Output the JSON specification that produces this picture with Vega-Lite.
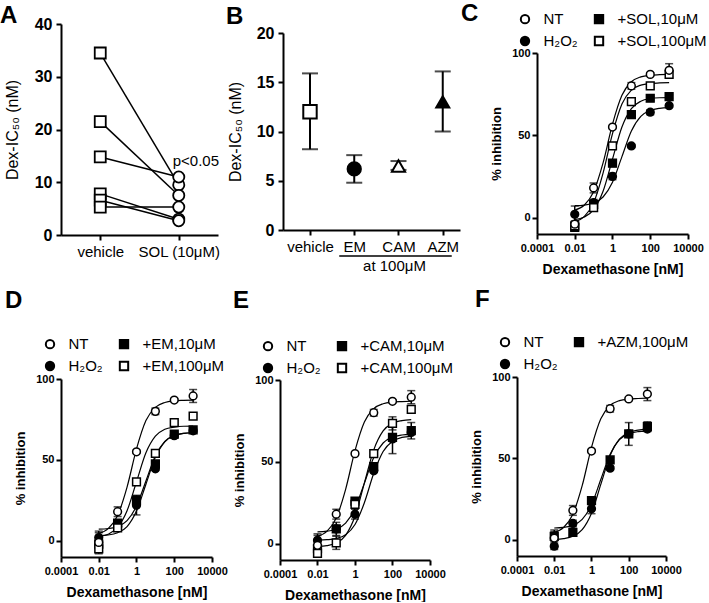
{
"$schema":"https://vega.github.io/schema/vega-lite/v6.json",
"autosize":"pad",
"padding":{"left":0,"top":1,"right":0,"bottom":0},
"config":{"view":{"stroke":null},"font":"Liberation Sans",
"axis":{"domainColor":"black","domainWidth":2,"tickColor":"black","tickWidth":2,"tickSize":5,"labelColor":"black","titleColor":"black","grid":false,"labelFont":"Liberation Sans","titleFont":"Liberation Sans","labelFlush":false,"labelOverlap":false,"labelBound":false},
"legend":{"title":null,"orient":"none","columns":2,"columnPadding":12,"rowPadding":5,"labelFontSize":15,"labelFont":"Liberation Sans","labelColor":"black","labelOffset":11,"symbolSize":70,"symbolStrokeWidth":2,"padding":0,"labelLimit":0},
"title":{"font":"Liberation Sans","fontSize":24,"fontWeight":"bold","color":"black","anchor":"start","frame":"group","baseline":"alphabetic","offset":0}},
"datasets":{
"a":[{"id":1,"cond":"vehicle","v":34.5},{"id":1,"cond":"SOL (10μM)","v":9.5},
{"id":2,"cond":"vehicle","v":21.5},{"id":2,"cond":"SOL (10μM)","v":7.5},
{"id":3,"cond":"vehicle","v":14.8},{"id":3,"cond":"SOL (10μM)","v":11},
{"id":4,"cond":"vehicle","v":7.8},{"id":4,"cond":"SOL (10μM)","v":3.0},
{"id":5,"cond":"vehicle","v":6.6},{"id":5,"cond":"SOL (10μM)","v":2.7},
{"id":6,"cond":"vehicle","v":5.3},{"id":6,"cond":"SOL (10μM)","v":5.3}],
"b":[{"drug":"vehicle","v":12,"lo":8.2,"hi":15.9},{"drug":"EM","v":6.2,"lo":4.8,"hi":7.6},{"drug":"CAM","v":6.5,"lo":6.1,"hi":7.0},{"drug":"AZM","v":13,"lo":10,"hi":16.1}],
"pts":[
{"p":"C","s":"H₂O₂","x":0.01,"v":2,"lo":-3,"hi":7},{"p":"C","s":"H₂O₂","x":0.1,"v":9,"lo":7,"hi":11},{"p":"C","s":"H₂O₂","x":1,"v":25,"lo":23,"hi":27},{"p":"C","s":"H₂O₂","x":10,"v":43.5,"lo":42.5,"hi":44.5},{"p":"C","s":"H₂O₂","x":100,"v":64,"lo":62.5,"hi":65.5},{"p":"C","s":"H₂O₂","x":1000,"v":68,"lo":67,"hi":69},
{"p":"C","s":"+SOL,10μM","x":0.01,"v":-6,"lo":-8,"hi":-4},{"p":"C","s":"+SOL,10μM","x":0.1,"v":8,"lo":6,"hi":10},{"p":"C","s":"+SOL,10μM","x":1,"v":33,"lo":31,"hi":35},{"p":"C","s":"+SOL,10μM","x":10,"v":62.5,"lo":61,"hi":64},{"p":"C","s":"+SOL,10μM","x":100,"v":72.5,"lo":71.5,"hi":73.5},{"p":"C","s":"+SOL,10μM","x":1000,"v":73.5,"lo":72.5,"hi":74.5},
{"p":"C","s":"+SOL,100μM","x":0.01,"v":-5,"lo":-7,"hi":-3},{"p":"C","s":"+SOL,100μM","x":0.1,"v":6,"lo":4,"hi":8},{"p":"C","s":"+SOL,100μM","x":1,"v":43.5,"lo":41.5,"hi":45.5},{"p":"C","s":"+SOL,100μM","x":10,"v":70.5,"lo":68.5,"hi":72.5},{"p":"C","s":"+SOL,100μM","x":100,"v":80,"lo":78,"hi":82},{"p":"C","s":"+SOL,100μM","x":1000,"v":87,"lo":85,"hi":89},
{"p":"C","s":"NT","x":0.01,"v":-4,"lo":-6,"hi":-2},{"p":"C","s":"NT","x":0.1,"v":18,"lo":15,"hi":21},{"p":"C","s":"NT","x":1,"v":55,"lo":54,"hi":56},{"p":"C","s":"NT","x":10,"v":80,"lo":78,"hi":82},{"p":"C","s":"NT","x":100,"v":87,"lo":86,"hi":88},{"p":"C","s":"NT","x":1000,"v":89.5,"lo":85.5,"hi":93.5},
{"p":"D","s":"H₂O₂","x":0.01,"v":2,"lo":-2,"hi":6},{"p":"D","s":"H₂O₂","x":0.1,"v":9,"lo":7,"hi":11},{"p":"D","s":"H₂O₂","x":1,"v":22,"lo":16,"hi":28},{"p":"D","s":"H₂O₂","x":10,"v":44.5,"lo":43.5,"hi":45.5},{"p":"D","s":"H₂O₂","x":100,"v":65,"lo":63.5,"hi":66.5},{"p":"D","s":"H₂O₂","x":1000,"v":68,"lo":67,"hi":69},
{"p":"D","s":"+EM,10μM","x":0.01,"v":-2,"lo":-5,"hi":1},{"p":"D","s":"+EM,10μM","x":0.1,"v":11,"lo":9,"hi":13},{"p":"D","s":"+EM,10μM","x":1,"v":25,"lo":22,"hi":28},{"p":"D","s":"+EM,10μM","x":10,"v":47.5,"lo":45.5,"hi":49.5},{"p":"D","s":"+EM,10μM","x":100,"v":66,"lo":65,"hi":67},{"p":"D","s":"+EM,10μM","x":1000,"v":68.5,"lo":67.5,"hi":69.5},
{"p":"D","s":"+EM,100μM","x":0.01,"v":-5,"lo":-8,"hi":-2},{"p":"D","s":"+EM,100μM","x":0.1,"v":8,"lo":6,"hi":10},{"p":"D","s":"+EM,100μM","x":1,"v":36.5,"lo":35,"hi":38},{"p":"D","s":"+EM,100μM","x":10,"v":54,"lo":52.5,"hi":55.5},{"p":"D","s":"+EM,100μM","x":100,"v":73,"lo":71.5,"hi":74.5},{"p":"D","s":"+EM,100μM","x":1000,"v":77,"lo":75.5,"hi":78.5},
{"p":"D","s":"NT","x":0.01,"v":-1,"lo":-7,"hi":5},{"p":"D","s":"NT","x":0.1,"v":18,"lo":15,"hi":21},{"p":"D","s":"NT","x":1,"v":55,"lo":54,"hi":56},{"p":"D","s":"NT","x":10,"v":80,"lo":78,"hi":82},{"p":"D","s":"NT","x":100,"v":87,"lo":86,"hi":88},{"p":"D","s":"NT","x":1000,"v":89.5,"lo":85.5,"hi":93.5},
{"p":"E","s":"H₂O₂","x":0.01,"v":2,"lo":-2,"hi":6},{"p":"E","s":"H₂O₂","x":0.1,"v":9,"lo":7,"hi":11},{"p":"E","s":"H₂O₂","x":1,"v":18,"lo":15,"hi":21},{"p":"E","s":"H₂O₂","x":10,"v":44.5,"lo":43.5,"hi":45.5},{"p":"E","s":"H₂O₂","x":100,"v":64,"lo":62.5,"hi":65.5},{"p":"E","s":"H₂O₂","x":1000,"v":68,"lo":67,"hi":69},
{"p":"E","s":"+CAM,10μM","x":0.01,"v":-3,"lo":-7,"hi":1},{"p":"E","s":"+CAM,10μM","x":0.1,"v":9,"lo":5,"hi":13},{"p":"E","s":"+CAM,10μM","x":1,"v":26,"lo":24.5,"hi":27.5},{"p":"E","s":"+CAM,10μM","x":10,"v":47,"lo":45,"hi":49},{"p":"E","s":"+CAM,10μM","x":100,"v":65,"lo":55,"hi":75},{"p":"E","s":"+CAM,10μM","x":1000,"v":69,"lo":64,"hi":74},
{"p":"E","s":"+CAM,100μM","x":0.01,"v":-6,"lo":-8,"hi":-4},{"p":"E","s":"+CAM,100μM","x":0.1,"v":0.5,"lo":-3.5,"hi":4.5},{"p":"E","s":"+CAM,100μM","x":1,"v":24,"lo":22,"hi":26},{"p":"E","s":"+CAM,100μM","x":10,"v":55,"lo":53.5,"hi":56.5},{"p":"E","s":"+CAM,100μM","x":100,"v":73.5,"lo":69.5,"hi":77.5},{"p":"E","s":"+CAM,100μM","x":1000,"v":82,"lo":80,"hi":84},
{"p":"E","s":"NT","x":0.01,"v":-1,"lo":-7,"hi":5},{"p":"E","s":"NT","x":0.1,"v":18,"lo":15,"hi":21},{"p":"E","s":"NT","x":1,"v":55,"lo":54,"hi":56},{"p":"E","s":"NT","x":10,"v":80,"lo":78,"hi":82},{"p":"E","s":"NT","x":100,"v":87,"lo":86,"hi":88},{"p":"E","s":"NT","x":1000,"v":89.5,"lo":85.5,"hi":93.5},
{"p":"F","s":"H₂O₂","x":0.01,"v":-4,"lo":-6,"hi":-2},{"p":"F","s":"H₂O₂","x":0.1,"v":10,"lo":8,"hi":12},{"p":"F","s":"H₂O₂","x":1,"v":19,"lo":16,"hi":22},{"p":"F","s":"H₂O₂","x":10,"v":44,"lo":43,"hi":45},{"p":"F","s":"H₂O₂","x":100,"v":65,"lo":63,"hi":67},{"p":"F","s":"H₂O₂","x":1000,"v":68,"lo":67,"hi":69},
{"p":"F","s":"+AZM,100μM","x":0.01,"v":2,"lo":-1,"hi":5},{"p":"F","s":"+AZM,100μM","x":0.1,"v":4.5,"lo":3,"hi":6},{"p":"F","s":"+AZM,100μM","x":1,"v":24,"lo":22,"hi":26},{"p":"F","s":"+AZM,100μM","x":10,"v":49,"lo":47.5,"hi":50.5},{"p":"F","s":"+AZM,100μM","x":100,"v":65,"lo":58,"hi":72},{"p":"F","s":"+AZM,100μM","x":1000,"v":69.5,"lo":66.5,"hi":72.5},
{"p":"F","s":"NT","x":0.01,"v":1,"lo":-4,"hi":6},{"p":"F","s":"NT","x":0.1,"v":18,"lo":15,"hi":21},{"p":"F","s":"NT","x":1,"v":54.5,"lo":53.5,"hi":55.5},{"p":"F","s":"NT","x":10,"v":80.5,"lo":78.5,"hi":82.5},{"p":"F","s":"NT","x":100,"v":86.5,"lo":85.5,"hi":87.5},{"p":"F","s":"NT","x":1000,"v":89.5,"lo":85.5,"hi":93.5}
],
"crv":[
{"p":"all","s":"NT","x":0.01,"v":4.5},{"p":"all","s":"NT","x":0.0316,"v":7.5},{"p":"all","s":"NT","x":0.1,"v":15.7},{"p":"all","s":"NT","x":0.316,"v":33.2},{"p":"all","s":"NT","x":1,"v":56.8},{"p":"all","s":"NT","x":3.16,"v":74.3},{"p":"all","s":"NT","x":10,"v":82.5},{"p":"all","s":"NT","x":31.6,"v":85.5},{"p":"all","s":"NT","x":100,"v":86.5},{"p":"all","s":"NT","x":316,"v":86.8},{"p":"all","s":"NT","x":1000,"v":87},
{"p":"all","s":"H₂O₂","x":0.01,"v":7.2},{"p":"all","s":"H₂O₂","x":0.0316,"v":7.6},{"p":"all","s":"H₂O₂","x":0.1,"v":8.8},{"p":"all","s":"H₂O₂","x":0.316,"v":12.5},{"p":"all","s":"H₂O₂","x":1,"v":21.4},{"p":"all","s":"H₂O₂","x":3.16,"v":37},{"p":"all","s":"H₂O₂","x":10,"v":52.6},{"p":"all","s":"H₂O₂","x":31.6,"v":61.5},{"p":"all","s":"H₂O₂","x":100,"v":65.1},{"p":"all","s":"H₂O₂","x":316,"v":66.4},{"p":"all","s":"H₂O₂","x":1000,"v":66.8},
{"p":"C","s":"+SOL,10μM","x":0.01,"v":-1.3},{"p":"C","s":"+SOL,10μM","x":0.0316,"v":0.3},{"p":"C","s":"+SOL,10μM","x":0.1,"v":4.8},{"p":"C","s":"+SOL,10μM","x":0.316,"v":16},{"p":"C","s":"+SOL,10μM","x":1,"v":35.5},{"p":"C","s":"+SOL,10μM","x":3.16,"v":55},{"p":"C","s":"+SOL,10μM","x":10,"v":66.2},{"p":"C","s":"+SOL,10μM","x":31.6,"v":70.7},{"p":"C","s":"+SOL,10μM","x":100,"v":72.3},{"p":"C","s":"+SOL,10μM","x":316,"v":72.8},{"p":"C","s":"+SOL,10μM","x":1000,"v":72.9},
{"p":"C","s":"+SOL,100μM","x":0.01,"v":-2.5},{"p":"C","s":"+SOL,100μM","x":0.0316,"v":0.6},{"p":"C","s":"+SOL,100μM","x":0.1,"v":9},{"p":"C","s":"+SOL,100μM","x":0.316,"v":27},{"p":"C","s":"+SOL,100μM","x":1,"v":51},{"p":"C","s":"+SOL,100μM","x":3.16,"v":69},{"p":"C","s":"+SOL,100μM","x":10,"v":77.4},{"p":"C","s":"+SOL,100μM","x":31.6,"v":80.5},{"p":"C","s":"+SOL,100μM","x":100,"v":81.5},{"p":"C","s":"+SOL,100μM","x":316,"v":81.8},{"p":"C","s":"+SOL,100μM","x":1000,"v":82},
{"p":"D","s":"+EM,10μM","x":0.01,"v":3.2},{"p":"D","s":"+EM,10μM","x":0.0316,"v":3.6},{"p":"D","s":"+EM,10μM","x":0.1,"v":5},{"p":"D","s":"+EM,10μM","x":0.316,"v":8.8},{"p":"D","s":"+EM,10μM","x":1,"v":18.4},{"p":"D","s":"+EM,10μM","x":3.16,"v":35},{"p":"D","s":"+EM,10μM","x":10,"v":51.6},{"p":"D","s":"+EM,10μM","x":31.6,"v":61.2},{"p":"D","s":"+EM,10μM","x":100,"v":65},{"p":"D","s":"+EM,10μM","x":316,"v":66.4},{"p":"D","s":"+EM,10μM","x":1000,"v":66.8},
{"p":"D","s":"+EM,100μM","x":0.01,"v":2.7},{"p":"D","s":"+EM,100μM","x":0.0316,"v":4.1},{"p":"D","s":"+EM,100μM","x":0.1,"v":8.3},{"p":"D","s":"+EM,100μM","x":0.316,"v":18.6},{"p":"D","s":"+EM,100μM","x":1,"v":36.5},{"p":"D","s":"+EM,100μM","x":3.16,"v":54.4},{"p":"D","s":"+EM,100μM","x":10,"v":64.7},{"p":"D","s":"+EM,100μM","x":31.6,"v":68.9},{"p":"D","s":"+EM,100μM","x":100,"v":70.3},{"p":"D","s":"+EM,100μM","x":316,"v":70.8},{"p":"D","s":"+EM,100μM","x":1000,"v":70.9},
{"p":"E","s":"+CAM,10μM","x":0.01,"v":2.1},{"p":"E","s":"+CAM,10μM","x":0.0316,"v":2.4},{"p":"E","s":"+CAM,10μM","x":0.1,"v":3.1},{"p":"E","s":"+CAM,10μM","x":0.316,"v":5.4},{"p":"E","s":"+CAM,10μM","x":1,"v":11.7},{"p":"E","s":"+CAM,10μM","x":3.16,"v":25},{"p":"E","s":"+CAM,10μM","x":10,"v":43},{"p":"E","s":"+CAM,10μM","x":31.6,"v":56.3},{"p":"E","s":"+CAM,10μM","x":100,"v":62.6},{"p":"E","s":"+CAM,10μM","x":316,"v":64.9},{"p":"E","s":"+CAM,10μM","x":1000,"v":65.6},
{"p":"E","s":"+CAM,100μM","x":0.01,"v":-1.75},{"p":"E","s":"+CAM,100μM","x":0.0316,"v":-1.2},{"p":"E","s":"+CAM,100μM","x":0.1,"v":0.4},{"p":"E","s":"+CAM,100μM","x":0.316,"v":5.1},{"p":"E","s":"+CAM,100μM","x":1,"v":16.7},{"p":"E","s":"+CAM,100μM","x":3.16,"v":37},{"p":"E","s":"+CAM,100μM","x":10,"v":57.3},{"p":"E","s":"+CAM,100μM","x":31.6,"v":68.9},{"p":"E","s":"+CAM,100μM","x":100,"v":73.6},{"p":"E","s":"+CAM,100μM","x":316,"v":75.2},{"p":"E","s":"+CAM,100μM","x":1000,"v":75.8},
{"p":"F","s":"+AZM,100μM","x":0.01,"v":0.2},{"p":"F","s":"+AZM,100μM","x":0.0316,"v":0.7},{"p":"F","s":"+AZM,100μM","x":0.1,"v":2.1},{"p":"F","s":"+AZM,100μM","x":0.316,"v":6.2},{"p":"F","s":"+AZM,100μM","x":1,"v":16.3},{"p":"F","s":"+AZM,100μM","x":3.16,"v":34},{"p":"F","s":"+AZM,100μM","x":10,"v":51.7},{"p":"F","s":"+AZM,100μM","x":31.6,"v":61.8},{"p":"F","s":"+AZM,100μM","x":100,"v":65.9},{"p":"F","s":"+AZM,100μM","x":316,"v":67.3},{"p":"F","s":"+AZM,100μM","x":1000,"v":67.8}
]},
"concat":[
{"width":157,"height":211,"title":{"text":"A","dx":-61,"dy":16},"data":{"name":"a"},
"layer":[
{"mark":{"type":"line","color":"black","strokeWidth":1.5},
"encoding":{"x":{"field":"cond","type":"nominal","title":null,"scale":{"type":"point","domain":["vehicle","SOL (10μM)"],"padding":0.5},"axis":{"labelAngle":0,"labelFontSize":15,"labelPadding":4}},
"y":{"field":"v","type":"quantitative","title":"Dex-IC₅₀ (nM)","scale":{"domain":[0,40],"nice":false},"axis":{"values":[0,10,20,30,40],"labelFontSize":16,"labelFontWeight":"bold","labelPadding":4,"titleFontSize":16,"titleFontWeight":"normal","titlePadding":14}},
"detail":{"field":"id"}}},
{"mark":{"type":"point","filled":true,"fill":"white","stroke":"black","strokeWidth":1.8,"opacity":1},
"encoding":{"x":{"field":"cond","type":"nominal","title":null},"y":{"field":"v","type":"quantitative","title":"Dex-IC₅₀ (nM)"},
"shape":{"field":"cond","type":"nominal","scale":{"domain":["vehicle","SOL (10μM)"],"range":["square","circle"]},"legend":null},
"size":{"field":"cond","type":"nominal","scale":{"domain":["vehicle","SOL (10μM)"],"range":[121,125]},"legend":null}}},
{"data":{"values":[{"cond":"SOL (10μM)","v":14,"t":"p<0.05"}]},
"mark":{"type":"text","align":"left","dx":-6,"fontSize":15,"font":"Liberation Sans","color":"black"},
"encoding":{"x":{"field":"cond","type":"nominal","title":null},"y":{"field":"v","type":"quantitative","title":"Dex-IC₅₀ (nM)"},"text":{"field":"t"}}}
]},
{"width":175,"height":206,"title":{"text":"B","dx":-54,"dy":9},"data":{"name":"b"},
"layer":[
{"mark":{"type":"rule","color":"black","strokeWidth":2},
"encoding":{"x":{"field":"drug","type":"nominal","title":"at 100μM","scale":{"type":"point","domain":["vehicle","EM","CAM","AZM"],"range":[3,180],"padding":0.5,"align":0.61},"axis":{"labelAngle":0,"labelFontSize":15,"labelPadding":4,"titleX":114,"titleFontSize":15,"titleFontWeight":"normal","titlePadding":4}},
"y":{"field":"lo","type":"quantitative","title":"Dex-IC₅₀ (nM)","scale":{"domain":[0,20],"range":[206,9],"nice":false},"axis":{"offset":-3,"values":[0,5,10,15,20],"labelFontSize":16,"labelFontWeight":"bold","labelPadding":4,"titleFontSize":16,"titleFontWeight":"normal","titlePadding":13}},
"y2":{"field":"hi"}}},
{"mark":{"type":"tick","orient":"horizontal","size":16,"thickness":2,"color":"black"},
"encoding":{"x":{"field":"drug","type":"nominal","title":"at 100μM"},"y":{"field":"lo","type":"quantitative","title":"Dex-IC₅₀ (nM)"}}},
{"mark":{"type":"tick","orient":"horizontal","size":16,"thickness":2,"color":"black"},
"encoding":{"x":{"field":"drug","type":"nominal","title":"at 100μM"},"y":{"field":"hi","type":"quantitative","title":"Dex-IC₅₀ (nM)"}}},
{"mark":{"type":"point","filled":true,"stroke":"black","strokeWidth":2,"opacity":1},
"encoding":{"x":{"field":"drug","type":"nominal","title":"at 100μM"},"y":{"field":"v","type":"quantitative","title":"Dex-IC₅₀ (nM)"},
"shape":{"field":"drug","type":"nominal","scale":{"domain":["vehicle","EM","CAM","AZM"],"range":["square","circle","triangle-up","triangle-up"]},"legend":null},
"fill":{"field":"drug","type":"nominal","scale":{"domain":["vehicle","EM","CAM","AZM"],"range":["white","black","white","black"]},"legend":null},
"size":{"field":"drug","type":"nominal","scale":{"domain":["vehicle","EM","CAM","AZM"],"range":[180,170,100,200]},"legend":null}}},
{"data":{"values":[{"from":"EM","to":"AZM"}]},
"mark":{"type":"rule","color":"black","strokeWidth":1.5,"xOffset":-15,"x2Offset":9},
"encoding":{"x":{"field":"from","type":"nominal","title":"at 100μM"},"x2":{"field":"to"},"y":{"datum":-2.65}}}
]},
{"width":151,"height":210,"title":{"text":"C","dx":-56,"dy":18},
"layer":[
{"data":{"name":"crv"},"transform":[{"filter":"datum.p==='all'||datum.p==='C'"}],
"mark":{"type":"line","color":"black","strokeWidth":1.2,"interpolate":"monotone"},
"encoding":{"x":{"field":"x","type":"quantitative","title":"Dexamethasone [nM]","scale":{"type":"log","domain":[0.0001,10000],"nice":false,"range":[20,171]},"axis":{"values":[0.0001,0.01,1,100,10000],"format":"~g","labelFontSize":11,"labelFontWeight":"bold","labelPadding":3,"titleFontSize":14,"titleFontWeight":"bold","titlePadding":9,"titleX":95.5}},
"y":{"field":"v","type":"quantitative","title":"% inhibition","scale":{"domain":[-10,100],"nice":false,"zero":false,"range":[210,29]},"axis":{"offset":-20,"values":[0,50,100],"labelFontSize":11,"labelFontWeight":"bold","titleFontSize":13,"titleFontWeight":"bold","titlePadding":8}},
"detail":{"field":"s"}}},
{"data":{"name":"pts"},"transform":[{"filter":"datum.p==='C'"}],"mark":{"type":"rule","color":"black","strokeWidth":1.5},
"encoding":{"x":{"field":"x","type":"quantitative","title":"Dexamethasone [nM]"},"y":{"field":"lo","type":"quantitative","title":"% inhibition"},"y2":{"field":"hi"}}},
{"data":{"name":"pts"},"transform":[{"filter":"datum.p==='C'"}],"mark":{"type":"tick","orient":"horizontal","size":8,"thickness":1.5,"color":"black"},
"encoding":{"x":{"field":"x","type":"quantitative","title":"Dexamethasone [nM]"},"y":{"field":"lo","type":"quantitative","title":"% inhibition"}}},
{"data":{"name":"pts"},"transform":[{"filter":"datum.p==='C'"}],"mark":{"type":"tick","orient":"horizontal","size":8,"thickness":1.5,"color":"black"},
"encoding":{"x":{"field":"x","type":"quantitative","title":"Dexamethasone [nM]"},"y":{"field":"hi","type":"quantitative","title":"% inhibition"}}},
{"data":{"name":"pts"},"transform":[{"filter":"datum.p==='C'"}],"mark":{"type":"point","filled":true,"strokeWidth":1.5,"size":60,"opacity":1},
"encoding":{"x":{"field":"x","type":"quantitative","title":"Dexamethasone [nM]"},"y":{"field":"v","type":"quantitative","title":"% inhibition"},
"shape":{"field":"s","type":"nominal","scale":{"domain":["NT","H₂O₂","+SOL,10μM","+SOL,100μM"],"range":["circle","circle","square","square"]},"legend":{"legendX":0.5,"legendY":-12.5}},
"fill":{"field":"s","type":"nominal","scale":{"domain":["NT","H₂O₂","+SOL,10μM","+SOL,100μM"],"range":["white","black","black","white"]},"legend":{"legendX":0.5,"legendY":-12.5}},
"stroke":{"field":"s","type":"nominal","scale":{"domain":["NT","H₂O₂","+SOL,10μM","+SOL,100μM"],"range":["black","black","black","black"]},"legend":{"legendX":0.5,"legendY":-12.5}}}}
]},
{"width":151,"height":180,"title":{"text":"D","dx":-56,"dy":-20},
"layer":[
{"data":{"name":"crv"},"transform":[{"filter":"datum.p==='all'||datum.p==='D'"}],
"mark":{"type":"line","color":"black","strokeWidth":1.2,"interpolate":"monotone"},
"encoding":{"x":{"field":"x","type":"quantitative","title":"Dexamethasone [nM]","scale":{"type":"log","domain":[0.0001,10000],"nice":false},"axis":{"values":[0.0001,0.01,1,100,10000],"format":"~g","labelFontSize":11,"labelFontWeight":"bold","labelPadding":3,"titleFontSize":14,"titleFontWeight":"bold","titlePadding":9}},
"y":{"field":"v","type":"quantitative","title":"% inhibition","scale":{"domain":[-10,100],"nice":false,"zero":false,"range":[180,2]},"axis":{"values":[0,50,100],"labelFontSize":11,"labelFontWeight":"bold","titleFontSize":13,"titleFontWeight":"bold","titlePadding":8}},
"detail":{"field":"s"}}},
{"data":{"name":"pts"},"transform":[{"filter":"datum.p==='D'"}],"mark":{"type":"rule","color":"black","strokeWidth":1.5},
"encoding":{"x":{"field":"x","type":"quantitative","title":"Dexamethasone [nM]"},"y":{"field":"lo","type":"quantitative","title":"% inhibition"},"y2":{"field":"hi"}}},
{"data":{"name":"pts"},"transform":[{"filter":"datum.p==='D'"}],"mark":{"type":"tick","orient":"horizontal","size":8,"thickness":1.5,"color":"black"},
"encoding":{"x":{"field":"x","type":"quantitative","title":"Dexamethasone [nM]"},"y":{"field":"lo","type":"quantitative","title":"% inhibition"}}},
{"data":{"name":"pts"},"transform":[{"filter":"datum.p==='D'"}],"mark":{"type":"tick","orient":"horizontal","size":8,"thickness":1.5,"color":"black"},
"encoding":{"x":{"field":"x","type":"quantitative","title":"Dexamethasone [nM]"},"y":{"field":"hi","type":"quantitative","title":"% inhibition"}}},
{"data":{"name":"pts"},"transform":[{"filter":"datum.p==='D'"}],"mark":{"type":"point","filled":true,"strokeWidth":1.5,"size":60,"opacity":1},
"encoding":{"x":{"field":"x","type":"quantitative","title":"Dexamethasone [nM]"},"y":{"field":"v","type":"quantitative","title":"% inhibition"},
"shape":{"field":"s","type":"nominal","scale":{"domain":["NT","H₂O₂","+EM,10μM","+EM,100μM"],"range":["circle","circle","square","square"]},"legend":{"legendX":-18.5,"legendY":-40.5}},
"fill":{"field":"s","type":"nominal","scale":{"domain":["NT","H₂O₂","+EM,10μM","+EM,100μM"],"range":["white","black","black","white"]},"legend":{"legendX":-18.5,"legendY":-40.5}},
"stroke":{"field":"s","type":"nominal","scale":{"domain":["NT","H₂O₂","+EM,10μM","+EM,100μM"],"range":["black","black","black","black"]},"legend":{"legendX":-18.5,"legendY":-40.5}}}}
]},
{"width":150,"height":183,"title":{"text":"E","dx":-47,"dy":-22},
"layer":[
{"data":{"name":"crv"},"transform":[{"filter":"datum.p==='all'||datum.p==='E'"}],
"mark":{"type":"line","color":"black","strokeWidth":1.2,"interpolate":"monotone"},
"encoding":{"x":{"field":"x","type":"quantitative","title":"Dexamethasone [nM]","scale":{"type":"log","domain":[0.0001,10000],"nice":false},"axis":{"values":[0.0001,0.01,1,100,10000],"format":"~g","labelFontSize":11,"labelFontWeight":"bold","labelPadding":3,"titleFontSize":14,"titleFontWeight":"bold","titlePadding":9}},
"y":{"field":"v","type":"quantitative","title":"% inhibition","scale":{"domain":[-10,100],"nice":false,"zero":false,"range":[183,3]},"axis":{"values":[0,50,100],"labelFontSize":11,"labelFontWeight":"bold","titleFontSize":13,"titleFontWeight":"bold","titlePadding":8}},
"detail":{"field":"s"}}},
{"data":{"name":"pts"},"transform":[{"filter":"datum.p==='E'"}],"mark":{"type":"rule","color":"black","strokeWidth":1.5},
"encoding":{"x":{"field":"x","type":"quantitative","title":"Dexamethasone [nM]"},"y":{"field":"lo","type":"quantitative","title":"% inhibition"},"y2":{"field":"hi"}}},
{"data":{"name":"pts"},"transform":[{"filter":"datum.p==='E'"}],"mark":{"type":"tick","orient":"horizontal","size":8,"thickness":1.5,"color":"black"},
"encoding":{"x":{"field":"x","type":"quantitative","title":"Dexamethasone [nM]"},"y":{"field":"lo","type":"quantitative","title":"% inhibition"}}},
{"data":{"name":"pts"},"transform":[{"filter":"datum.p==='E'"}],"mark":{"type":"tick","orient":"horizontal","size":8,"thickness":1.5,"color":"black"},
"encoding":{"x":{"field":"x","type":"quantitative","title":"Dexamethasone [nM]"},"y":{"field":"hi","type":"quantitative","title":"% inhibition"}}},
{"data":{"name":"pts"},"transform":[{"filter":"datum.p==='E'"}],"mark":{"type":"point","filled":true,"strokeWidth":1.5,"size":60,"opacity":1},
"encoding":{"x":{"field":"x","type":"quantitative","title":"Dexamethasone [nM]"},"y":{"field":"v","type":"quantitative","title":"% inhibition"},
"shape":{"field":"s","type":"nominal","scale":{"domain":["NT","H₂O₂","+CAM,10μM","+CAM,100μM"],"range":["circle","circle","square","square"]},"legend":{"legendX":-19.5,"legendY":-38.5}},
"fill":{"field":"s","type":"nominal","scale":{"domain":["NT","H₂O₂","+CAM,10μM","+CAM,100μM"],"range":["white","black","black","white"]},"legend":{"legendX":-19.5,"legendY":-38.5}},
"stroke":{"field":"s","type":"nominal","scale":{"domain":["NT","H₂O₂","+CAM,10μM","+CAM,100μM"],"range":["black","black","black","black"]},"legend":{"legendX":-19.5,"legendY":-38.5}}}}
]},
{"width":149,"height":179,"title":{"text":"F","dx":-42,"dy":-19},
"layer":[
{"data":{"name":"crv"},"transform":[{"filter":"datum.p==='all'||datum.p==='F'"}],
"mark":{"type":"line","color":"black","strokeWidth":1.2,"interpolate":"monotone"},
"encoding":{"x":{"field":"x","type":"quantitative","title":"Dexamethasone [nM]","scale":{"type":"log","domain":[0.0001,10000],"nice":false},"axis":{"values":[0.0001,0.01,1,100,10000],"format":"~g","labelFontSize":11,"labelFontWeight":"bold","labelPadding":3,"titleFontSize":14,"titleFontWeight":"bold","titlePadding":9}},
"y":{"field":"v","type":"quantitative","title":"% inhibition","scale":{"domain":[-10,100],"nice":false,"zero":false},"axis":{"values":[0,50,100],"labelFontSize":11,"labelFontWeight":"bold","titleFontSize":13,"titleFontWeight":"bold","titlePadding":8}},
"detail":{"field":"s"}}},
{"data":{"name":"pts"},"transform":[{"filter":"datum.p==='F'"}],"mark":{"type":"rule","color":"black","strokeWidth":1.5},
"encoding":{"x":{"field":"x","type":"quantitative","title":"Dexamethasone [nM]"},"y":{"field":"lo","type":"quantitative","title":"% inhibition"},"y2":{"field":"hi"}}},
{"data":{"name":"pts"},"transform":[{"filter":"datum.p==='F'"}],"mark":{"type":"tick","orient":"horizontal","size":8,"thickness":1.5,"color":"black"},
"encoding":{"x":{"field":"x","type":"quantitative","title":"Dexamethasone [nM]"},"y":{"field":"lo","type":"quantitative","title":"% inhibition"}}},
{"data":{"name":"pts"},"transform":[{"filter":"datum.p==='F'"}],"mark":{"type":"tick","orient":"horizontal","size":8,"thickness":1.5,"color":"black"},
"encoding":{"x":{"field":"x","type":"quantitative","title":"Dexamethasone [nM]"},"y":{"field":"hi","type":"quantitative","title":"% inhibition"}}},
{"data":{"name":"pts"},"transform":[{"filter":"datum.p==='F'"}],"mark":{"type":"point","filled":true,"strokeWidth":1.5,"size":60,"opacity":1},
"encoding":{"x":{"field":"x","type":"quantitative","title":"Dexamethasone [nM]"},"y":{"field":"v","type":"quantitative","title":"% inhibition"},
"shape":{"field":"s","type":"nominal","scale":{"domain":["NT","H₂O₂","+AZM,100μM"],"range":["circle","circle","square"]},"legend":{"legendX":-19.5,"legendY":-42.5}},
"fill":{"field":"s","type":"nominal","scale":{"domain":["NT","H₂O₂","+AZM,100μM"],"range":["white","black","black"]},"legend":{"legendX":-19.5,"legendY":-42.5}},
"stroke":{"field":"s","type":"nominal","scale":{"domain":["NT","H₂O₂","+AZM,100μM"],"range":["black","black","black"]},"legend":{"legendX":-19.5,"legendY":-42.5}}}}
]}
],
"columns":3,
"spacing":{"row":142,"column":62},
"align":"each",
"bounds":"flush",
"resolve":{"scale":{"shape":"independent","fill":"independent","stroke":"independent","size":"independent"},"legend":{"shape":"independent","fill":"independent","stroke":"independent","size":"independent"}}
}
